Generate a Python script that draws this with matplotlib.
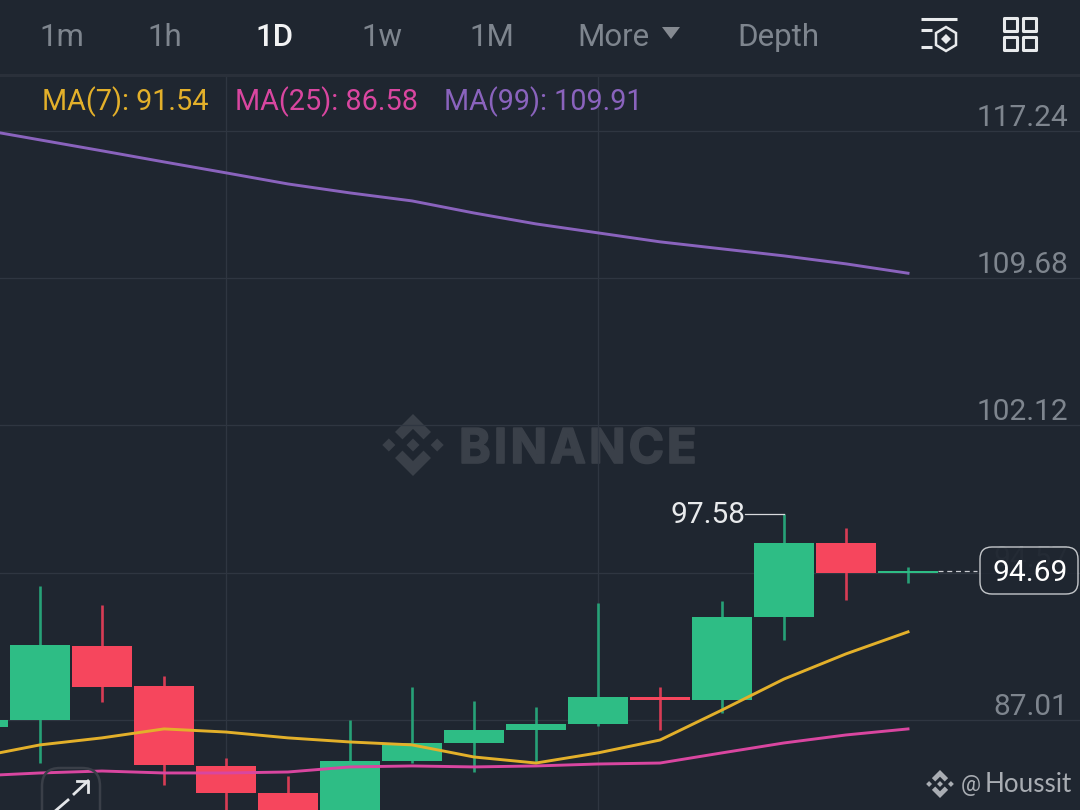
import matplotlib
matplotlib.use('Agg')
import matplotlib.pyplot as plt
import matplotlib.patheffects as pe
from matplotlib.patches import FancyBboxPatch, Polygon, Rectangle

plt.rcParams['font.family'] = ['Roboto', 'DejaVu Sans']

BG = '#1f2630'
GRID = '#2f3641'
GREEN = '#2ebd85'
RED = '#f6465d'
GREEN_WICK = '#27a177'
RED_WICK = '#d83c55'
YELLOW = '#e3b02a'
PINK = '#d946a0'
PURPLE = '#8a63bd'

# candles, first one sits mostly off the left edge
idx = [-1, 0, 1, 2, 3, 4, 5, 6, 7, 8, 9, 10, 11, 12, 13, 14]
opens = [86.65, 87.01, 90.81, 88.75, 84.65, 83.26, 81.80, 84.91, 85.83, 86.50, 86.80, 88.19, 88.04, 92.29, 96.09, 94.57]
closes = [87.01, 90.86, 88.70, 84.70, 83.26, 81.37, 84.91, 85.83, 86.50, 86.80, 88.19, 88.04, 92.29, 96.09, 94.55, 94.66]
highs = [87.01, 93.89, 92.91, 89.27, 85.06, 84.14, 87.01, 88.70, 87.98, 87.68, 93.01, 88.70, 93.12, 97.58, 96.86, 94.86]
lows = [86.65, 84.80, 87.93, 83.67, 82.14, 80.90, 81.30, 84.80, 84.34, 84.80, 86.70, 86.50, 87.37, 91.11, 93.17, 94.04]

ma7 = [85.11, 85.73, 86.09, 86.55, 86.39, 86.09, 85.88, 85.73, 85.11, 84.80, 85.32, 85.98, 87.52, 89.11, 90.40, 91.53]
ma25 = [84.14, 84.29, 84.39, 84.29, 84.29, 84.34, 84.60, 84.65, 84.60, 84.65, 84.75, 84.80, 85.32, 85.83, 86.24, 86.55]
ma99 = [117.33, 116.77, 116.21, 115.64, 115.08, 114.51, 114.05, 113.64, 113.02, 112.46, 112.00, 111.54, 111.18, 110.82, 110.41, 109.93]

price_ticks = [117.24, 109.68, 102.12, 94.57, 87.01]
price_labels = ['117.24', '109.68', '102.12', '94.57', '87.01']
grid_candles = [3, 9]
last_price = 94.69
top_price = 97.58

tabs = ['1m', '1h', '1D', '1w', '1M', 'More', 'Depth']
tab_x = [62, 165, 275, 382, 492, 613, 778]
ma_labels = ['MA(7): 91.54', 'MA(25): 86.58', 'MA(99): 109.91']
ma_label_x = [42, 235, 444]
ma_colors = [YELLOW, PINK, PURPLE]

fig = plt.figure(figsize=(10.8, 8.1), dpi=100, facecolor=BG)


def px_axes(z):
    a = fig.add_axes([0, 0, 1, 1], zorder=z)
    a.set_xlim(0, 1080)
    a.set_ylim(810, 0)
    a.axis('off')
    a.patch.set_alpha(0)
    return a


def logo(a, cx, cy, r, color, z=1):
    small = 0.21
    for dx, dy in [(0, 0), (-0.78, 0), (0.78, 0)]:
        pts = [(dx, dy - small), (dx + small, dy), (dx, dy + small), (dx - small, dy)]
        a.add_patch(Polygon([(cx + x * r, cy + y * r) for x, y in pts], fc=color, ec='none', zorder=z))
    for s in (1, -1):
        pts = [(0, -1), (0.58, -0.42), (0.34, -0.18), (0, -0.52), (-0.34, -0.18), (-0.58, -0.42)]
        a.add_patch(Polygon([(cx + x * r, cy + s * y * r) for x, y in pts], fc=color, ec='none', zorder=z))


back = px_axes(0)
ax = fig.add_axes([0, 0, 1, 735 / 810], zorder=1)
front = px_axes(2)

# watermark goes under the grid, letters placed one by one for the wide spacing
logo(back, 413, 445, 31, '#3a4049')
renderer = fig.canvas.get_renderer()
wm_x = 459
for ch in 'BINANCE':
    t = back.text(wm_x, 445, ch, color='#3a4049', fontsize=34.5, fontweight='bold', va='center_baseline', ha='left',
                  fontfamily='Inter',
                  path_effects=[pe.withStroke(linewidth=1.2, foreground='#3a4049')])
    wm_x += t.get_window_extent(renderer).width + 3.2

ax.patch.set_alpha(0)
ax.set_xlim(-0.645, 16.774)
ax.set_ylim(82.39, 120.10)
ax.set_xticks(grid_candles)
ax.set_yticks(price_ticks)
ax.set_xticklabels([])
ax.set_yticklabels([])
ax.tick_params(length=0)
ax.grid(True, color=GRID, lw=0.9)
ax.set_axisbelow(True)
for s in ax.spines.values():
    s.set_visible(False)

for lab, val in zip(price_labels, price_ticks):
    col = '#3b424c' if lab == '94.57' else '#7e858e'
    ax.annotate(lab, (1, val), xycoords=('axes fraction', 'data'), xytext=(-8.5, 9.5), textcoords='offset points',
                ha='right', va='center', color=col, fontsize=21.5)

for i, o, c, h, l in zip(idx, opens, closes, highs, lows):
    up = c >= o
    ax.vlines(i, l, h, color=GREEN_WICK if up else RED_WICK, lw=1.9, zorder=2)
    ax.bar(i, abs(c - o), bottom=min(o, c), width=0.965, color=GREEN if up else RED, zorder=3)

ax.plot(idx, ma99, color=PURPLE, lw=2.1, zorder=4)
ax.plot(idx, ma25, color=PINK, lw=2.1, zorder=4)
ax.plot(idx, ma7, color=YELLOW, lw=2.1, zorder=4)

# high marker and last price
ax.plot([11.37, 12], [top_price, top_price], color='#d8dadd', lw=0.9, zorder=5)
ax.text(11.38, top_price - 0.07, '%.2f' % top_price, color='#e8eaec', fontsize=21.5, ha='right', va='center', zorder=5)
ax.plot([14.48, 15.12], [last_price - 0.03, last_price - 0.03], color='#c8cbd0', lw=0.9, ls=(0, (4, 3)), zorder=5)

box = FancyBboxPatch((986, 553), 86, 35, boxstyle='round,pad=6,rounding_size=12',
                     fc=BG, ec='#e8eaec', lw=1.0, alpha=0.82, zorder=6)
front.add_patch(box)
front.text(1030, 573, '%.2f' % last_price, color='white', fontsize=21.5, ha='center', va='center', zorder=7)

# top bar
for lab, x in zip(tabs, tab_x):
    on = lab == '1D'
    front.text(x, 37, lab, color='#f2f3f4' if on else '#7e858e', fontsize=22.5, ha='center', va='center',
               fontweight='medium' if on else 'normal')
front.add_patch(Polygon([(662, 27), (680, 27), (671, 39)], fc='#858a91', ec='none'))
front.plot([0, 1080], [74.5, 74.5], color='#2a303a', lw=2.2)

for lab, x, col in zip(ma_labels, ma_label_x, ma_colors):
    front.text(x, 102, lab, color=col, fontsize=20.8, ha='left', va='center')

# icons top right
ICON = '#e8eaec'
front.plot([921, 957], [19, 19], color=ICON, lw=2.2, solid_capstyle='butt')
front.plot([921, 932], [30, 30], color=ICON, lw=2.2, solid_capstyle='butt')
front.plot([921, 932], [47, 47], color=ICON, lw=2.2, solid_capstyle='butt')
front.add_patch(Polygon([(946, 27), (956, 33), (956, 45), (946, 51), (936, 45), (936, 33)],
                        fc='none', ec=ICON, lw=1.8))
front.add_patch(Polygon([(946, 34), (951, 39), (946, 44), (941, 39)], fc=ICON, ec='none'))
for x in (1004, 1023):
    for y in (18, 37):
        front.add_patch(Rectangle((x, y), 13, 13, fc='none', ec=ICON, lw=2.2, joinstyle='round'))

# expand button
front.add_patch(FancyBboxPatch((42, 768), 58, 80, boxstyle='round,pad=0,rounding_size=18',
                               fc='none', ec='#3a3f48', lw=1.8, clip_on=True))
front.plot([74, 88], [794, 781], color='#e4e6e9', lw=2)
front.plot([77, 88, 88], [781, 781, 792], color='#e4e6e9', lw=2)
front.plot([68, 54], [800, 812], color='#e4e6e9', lw=2)

logo(front, 940, 784, 14, '#a9adb3')
front.text(961, 785, '@', color='#a9adb3', fontsize=16, ha='left', va='center')
front.text(985, 785, 'Houssit', color='#a9adb3', fontsize=18.7, ha='left', va='center', fontfamily='Lato')

fig.savefig('out.png', dpi=100, facecolor=BG)
